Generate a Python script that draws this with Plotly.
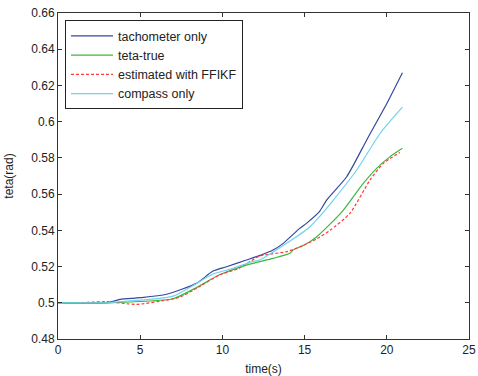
import plotly.graph_objects as go

# tachometer only
t_tach = [0, 3.0, 3.77, 5.0, 6.6, 8.42, 9.43, 10.25, 11.46, 12.3, 13.08, 13.7, 14.7, 15.13, 15.9, 16.34, 17.56, 18.78, 20.0, 20.95]
y_tach = [0.5, 0.5, 0.5019, 0.5028, 0.5047, 0.5107, 0.5175, 0.5199, 0.5236, 0.5262, 0.5291, 0.5328, 0.5411, 0.5440, 0.5503, 0.5567, 0.5696, 0.5899, 0.610, 0.627]

# teta-true
t_true = [0, 3.0, 5.0, 7.0, 8.4, 9.8, 11.46, 13.08, 14.1, 14.3, 15.0, 15.74, 16.5, 17.36, 18.58, 19.38, 20.2, 20.95]
y_true = [0.5, 0.5, 0.5007, 0.5022, 0.5083, 0.5153, 0.5208, 0.5245, 0.5273, 0.5291, 0.5320, 0.5365, 0.5430, 0.5512, 0.566, 0.5742, 0.5807, 0.5853]

# estimated with FFIKF
t_ffikf = [1.44, 2.95, 4.78, 6.6, 7.4, 8.6, 9.8, 11.0, 12.27, 13.9, 15.0, 15.8, 16.55, 17.76, 18.98, 19.79, 20.8]
y_ffikf = [0.5, 0.5006, 0.4991, 0.5015, 0.503, 0.5089, 0.5153, 0.519, 0.5258, 0.5282, 0.5320, 0.5356, 0.540, 0.5494, 0.5678, 0.577, 0.583]

# compass only
t_comp = [0, 3.0, 3.77, 7.0, 9.43, 10.65, 11.68, 12.27, 13.9, 15.33, 15.9, 16.75, 18.17, 19.6, 20.95]
y_comp = [0.5, 0.5, 0.5006, 0.5037, 0.5159, 0.519, 0.5224, 0.5236, 0.5328, 0.542, 0.5475, 0.5567, 0.5733, 0.5936, 0.608]

x_ticks = [0, 5, 10, 15, 20, 25]
y_ticks = [0.48, 0.5, 0.52, 0.54, 0.56, 0.58, 0.6, 0.62, 0.64, 0.66]

FONT = "Liberation Sans, Arial"

fig = go.Figure()
fig.add_trace(go.Scatter(x=t_tach, y=y_tach, mode="lines", name="tachometer only",
                         line=dict(color="#34489e", width=1.2, shape="spline", smoothing=0.6)))
fig.add_trace(go.Scatter(x=t_true, y=y_true, mode="lines", name="teta-true",
                         line=dict(color="#3cb83c", width=1.2, shape="spline", smoothing=0.6)))
fig.add_trace(go.Scatter(x=t_ffikf, y=y_ffikf, mode="lines", name="estimated with FFIKF",
                         line=dict(color="#ff3b3b", width=1.2, dash="3px,2px", shape="spline", smoothing=0.6)))
fig.add_trace(go.Scatter(x=t_comp, y=y_comp, mode="lines", name="compass only",
                         line=dict(color="#6fd3ec", width=1.2, shape="spline", smoothing=0.6)))

axis_common = dict(showgrid=False, zeroline=False, showline=True, linecolor="#333333", linewidth=1,
                   mirror="ticks", ticks="inside", ticklen=4, tickcolor="#333333", automargin=False,
                   tickfont=dict(family=FONT, size=12, color="#222222"))

fig.update_layout(
    width=478, height=376,
    margin=dict(l=58, r=9, t=13, b=37),
    paper_bgcolor="white", plot_bgcolor="white",
    xaxis=dict(range=[0, 25], tickvals=x_ticks, ticktext=[str(v) for v in x_ticks],
               title=dict(text="time(s)", font=dict(family=FONT, size=12, color="#222222")),
               **axis_common),
    yaxis=dict(range=[0.48, 0.66], tickvals=y_ticks, ticktext=[f"{v:g}" for v in y_ticks],
               title=dict(text="teta(rad)", font=dict(family=FONT, size=12, color="#222222")),
               **axis_common),
    legend=dict(x=0.017, y=0.978, xanchor="left", yanchor="top", bgcolor="white",
                bordercolor="#222222", borderwidth=1, itemwidth=42,
                font=dict(family=FONT, size=12.5, color="#222222")),
    showlegend=True,
)

fig.write_html("out.html")
